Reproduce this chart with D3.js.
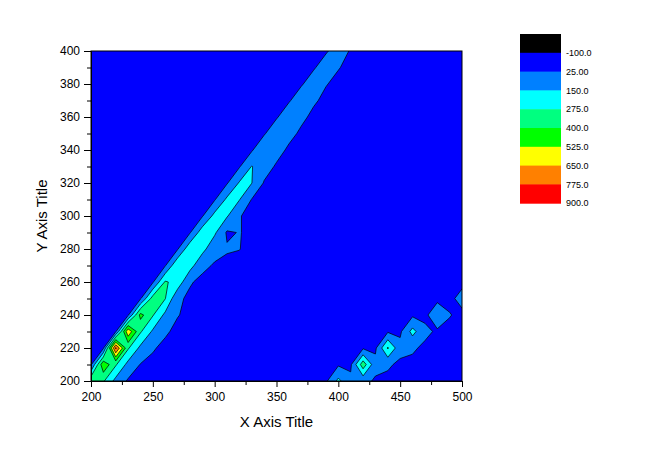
<!DOCTYPE html>
<html>
<head>
<meta charset="utf-8">
<script src="https://cdn.jsdelivr.net/npm/d3@7"></script>
<style>
  body { margin: 0; background: #fff; }
  svg { display: block; font-family: "Liberation Sans", Arial, sans-serif; }
</style>
</head>
<body>
<svg id="chart" width="650" height="459"></svg>
<script>
// grid columns (x) and rows (y)
var xValues = [200,210,220,230,240,250,260,270,280,290,300,310,320,330,340,350,360,370,380,390,400,410,420,430,440,450,460,470,480,490,500];
var yValues = [200,210,220,230,240,250,260,270,280,290,300,310,320,330,340,350,360,370,380,390,400];

// z values, one row per y (bottom row first)
var zRows = [
  [380,290,110,10,0,0,0,0,0,0, 0,0,0,0,0,0,0,0,0,5, 180,50,60,10,0,0,0,0,0,0,0],
  [5,500,290,110,20,0,0,0,0,0, 0,0,0,0,0,0,0,0,0,0, 10,5,350,60,40,5,0,0,0,0,0],
  [0,10,800,290,120,35,0,0,0,0, 0,0,0,0,0,0,0,0,0,0, 0,0,10,5,290,60,40,5,0,0,0],
  [0,0,10,620,290,130,40,0,0,0, 0,0,0,0,0,0,0,0,0,0, 0,0,0,0,10,5,190,50,10,0,0],
  [0,0,0,10,440,285,120,30,0,0, 0,0,0,0,0,0,0,0,0,0, 0,0,0,0,0,0,5,0,100,30,0],
  [0,0,0,0,10,330,280,45,5,0, 0,0,0,0,0,0,0,0,0,0, 0,0,0,0,0,0,0,0,0,0,60],
  [0,0,0,0,0,10,290,230,35,0, 0,0,0,0,0,0,0,0,0,0, 0,0,0,0,0,0,0,0,0,0,0],
  [0,0,0,0,0,0,15,260,200,50, 15,0,0,0,0,0,0,0,0,0, 0,0,0,0,0,0,0,0,0,0,0],
  [0,0,0,0,0,0,0,15,240,190, 60,35,27,0,0,0,0,0,0,0, 0,0,0,0,0,0,0,0,0,0,0],
  [0,0,0,0,0,0,0,0,15,220, 170,10,30,0,0,0,0,0,0,0, 0,0,0,0,0,0,0,0,0,0,0],
  [0,0,0,0,0,0,0,0,0,15, 190,160,30,0,0,0,0,0,0,0, 0,0,0,0,0,0,0,0,0,0,0],
  [0,0,0,0,0,0,0,0,0,0, 15,175,155,20,0,0,0,0,0,0, 0,0,0,0,0,0,0,0,0,0,0],
  [0,0,0,0,0,0,0,0,0,0, 0,15,162,152,15,0,0,0,0,0, 0,0,0,0,0,0,0,0,0,0,0],
  [0,0,0,0,0,0,0,0,0,0, 0,0,15,155,80,10,0,0,0,0, 0,0,0,0,0,0,0,0,0,0,0],
  [0,0,0,0,0,0,0,0,0,0, 0,0,0,12,135,70,5,0,0,0, 0,0,0,0,0,0,0,0,0,0,0],
  [0,0,0,0,0,0,0,0,0,0, 0,0,0,0,12,120,60,5,0,0, 0,0,0,0,0,0,0,0,0,0,0],
  [0,0,0,0,0,0,0,0,0,0, 0,0,0,0,0,12,110,50,0,0, 0,0,0,0,0,0,0,0,0,0,0],
  [0,0,0,0,0,0,0,0,0,0, 0,0,0,0,0,0,12,100,40,0, 0,0,0,0,0,0,0,0,0,0,0],
  [0,0,0,0,0,0,0,0,0,0, 0,0,0,0,0,0,0,12,90,30, 0,0,0,0,0,0,0,0,0,0,0],
  [0,0,0,0,0,0,0,0,0,0, 0,0,0,0,0,0,0,0,12,85, 30,0,0,0,0,0,0,0,0,0,0],
  [0,0,0,0,0,0,0,0,0,0, 0,0,0,0,0,0,0,0,0,12, 80,15,0,0,0,0,0,0,0,0,0]
];

// contour levels and fill colours (colour i sits above label i in the legend)
var levels = [-100, 25, 150, 275, 400, 525, 650, 775, 900];
var levelLabels = ["-100.0", "25.00", "150.0", "275.0", "400.0", "525.0", "650.0", "775.0", "900.0"];
var levelColors = ["#000000", "#0000ff", "#0080ff", "#00ffff", "#00ff80", "#00ff00", "#ffff00", "#ff8000", "#ff0000"];

var xTicks = [200, 250, 300, 350, 400, 450, 500];
var xMinor = [225, 275, 325, 375, 425, 475];
var yTicks = [200, 220, 240, 260, 280, 300, 320, 340, 360, 380, 400];
var yMinor = [210, 230, 250, 270, 290, 310, 330, 350, 370, 390];

var svg = d3.select("#chart");
var plotL = 91, plotR = 462, plotT = 51, plotB = 381;

var x = d3.scaleLinear().domain([200, 500]).range([plotL, plotR]);
var y = d3.scaleLinear().domain([200, 400]).range([plotB, plotT]);

var nx = xValues.length, ny = yValues.length;
var values = [];
zRows.forEach(function(row) { row.forEach(function(v) { values.push(v); }); });

// grid coordinate -> pixel (sample i sits at i + 0.5 in d3.contours space)
var gx = d3.scaleLinear().domain([0.5, nx - 0.5]).range([x(xValues[0]), x(xValues[nx - 1])]);
var gy = d3.scaleLinear().domain([0.5, ny - 0.5]).range([y(yValues[0]), y(yValues[ny - 1])]);
var path = d3.geoPath(d3.geoTransform({
  point: function(px, py) { this.stream.point(gx(px), gy(py)); }
}));

svg.append("clipPath").attr("id", "plotclip")
  .append("rect").attr("x", plotL).attr("y", plotT)
  .attr("width", plotR - plotL).attr("height", plotB - plotT);

var plot = svg.append("g").attr("clip-path", "url(#plotclip)");

var contours = d3.contours().size([nx, ny]).thresholds(levels.slice(0, 8))(values);

plot.selectAll("path")
  .data(contours)
  .enter().append("path")
  .attr("d", path)
  .attr("fill", function(d) { return levelColors[levels.indexOf(d.value) + 1]; })
  .attr("stroke", function(d, i) { return i == 0 ? "none" : "#000"; })
  .attr("stroke-width", 0.7)
  .attr("stroke-linejoin", "round");

// frame
svg.append("rect")
  .attr("x", plotL).attr("y", plotT)
  .attr("width", plotR - plotL).attr("height", plotB - plotT)
  .attr("fill", "none").attr("stroke", "#000").attr("stroke-width", 1);

// axes
svg.append("g").attr("transform", "translate(0," + plotB + ")")
  .call(d3.axisBottom(x).tickValues(xTicks).tickSize(6).tickPadding(5).tickFormat(d3.format("d")));
svg.append("g").attr("transform", "translate(0," + plotB + ")")
  .call(d3.axisBottom(x).tickValues(xMinor).tickSize(4).tickFormat(""));

svg.append("g").attr("transform", "translate(" + plotL + ",0)")
  .call(d3.axisLeft(y).tickValues(yTicks).tickSize(7).tickPadding(4).tickFormat(d3.format("d")));
svg.append("g").attr("transform", "translate(" + plotL + ",0)")
  .call(d3.axisLeft(y).tickValues(yMinor).tickSize(4).tickFormat(""));

svg.selectAll(".domain").attr("stroke", "#000");
svg.selectAll(".tick line").attr("stroke", "#000");
svg.selectAll(".tick text").attr("font-size", "12px").attr("fill", "#000")
  .attr("font-family", "Liberation Sans, Arial, sans-serif");

// titles
svg.append("text")
  .attr("x", (plotL + plotR) / 2).attr("y", 427)
  .attr("text-anchor", "middle").attr("font-size", "15px")
  .text("X Axis Title");

svg.append("text")
  .attr("transform", "translate(47," + ((plotT + plotB) / 2) + ") rotate(-90)")
  .attr("text-anchor", "middle").attr("font-size", "15px")
  .text("Y Axis Title");

// legend
var boxH = 18.8, boxTop = 34, boxX = 520, boxW = 41;
var legend = svg.append("g");
legend.selectAll("rect")
  .data(levelColors)
  .enter().append("rect")
  .attr("x", boxX)
  .attr("y", function(d, i) { return boxTop + i * boxH; })
  .attr("width", boxW)
  .attr("height", boxH + 0.5)
  .attr("fill", function(d) { return d; });

legend.selectAll("text")
  .data(levelLabels)
  .enter().append("text")
  .attr("x", boxX + boxW + 5)
  .attr("y", function(d, i) { return boxTop + (i + 1) * boxH; })
  .attr("dy", "0.35em")
  .attr("font-size", "9px")
  .text(function(d) { return d; });
</script>
</body>
</html>
